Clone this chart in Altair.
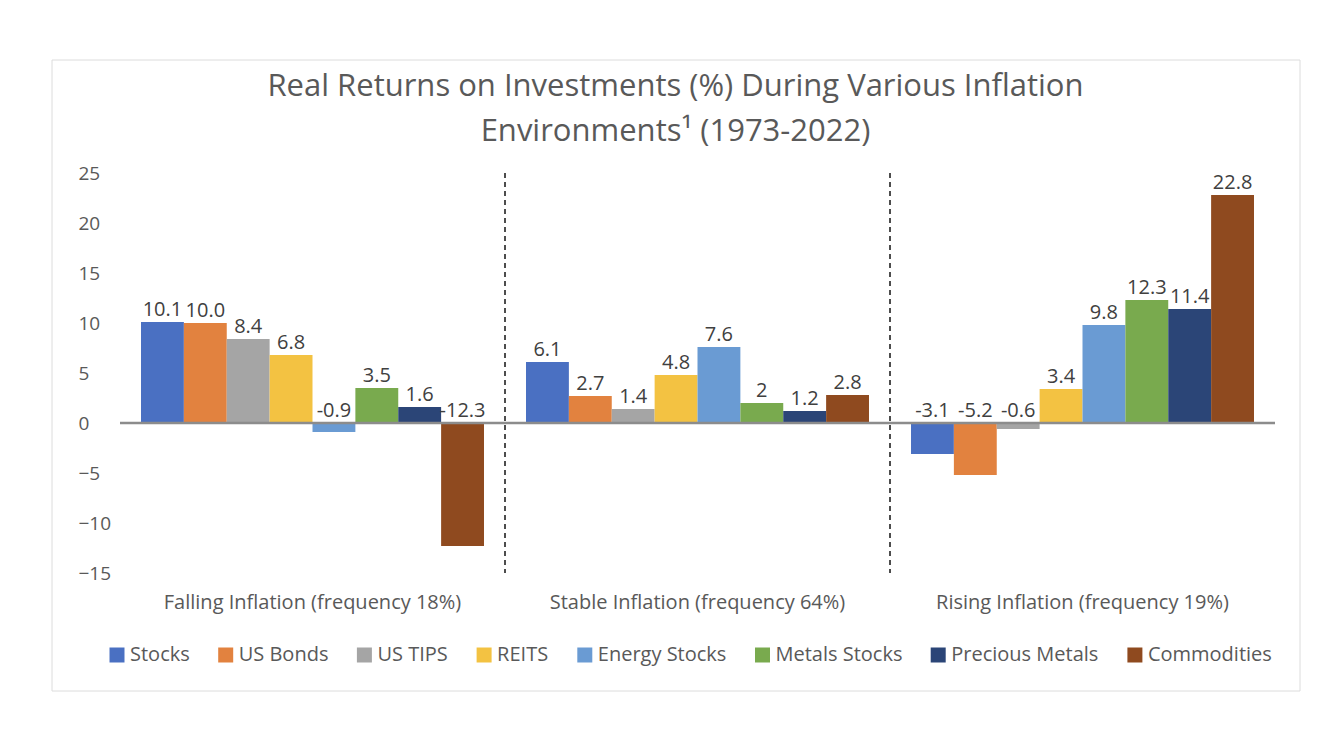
import altair as alt
import pandas as pd

groups = ["Falling Inflation (frequency 18%)", "Stable Inflation (frequency 64%)", "Rising Inflation (frequency 19%)"]
series = ["Stocks", "US Bonds", "US TIPS", "REITS", "Energy Stocks", "Metals Stocks", "Precious Metals", "Commodities"]
falling = [10.1, 10.0, 8.4, 6.8, -0.9, 3.5, 1.6, -12.3]
stable = [6.1, 2.7, 1.4, 4.8, 7.6, 2, 1.2, 2.8]
rising = [-3.1, -5.2, -0.6, 3.4, 9.8, 12.3, 11.4, 22.8]
colors = ["#4A70C2", "#E2823F", "#A5A5A5", "#F3C242", "#6A9BD3", "#79AA4E", "#2B4577", "#8F4A1F"]
y_ticks = [-15, -10, -5, 0, 5, 10, 15, 20, 25]

rows = []
for g, vals in zip(groups, [falling, stable, rising]):
    for s, v in zip(series, vals):
        rows.append({"group": g, "series": s, "value": v, "label": str(v), "labely": max(v, 0)})
df = pd.DataFrame(rows)

FONT = "Open Sans"
GREY = "#595959"
FS = 20

xscale = alt.Scale(domain=groups, paddingInner=0, paddingOuter=0)
xoff = alt.XOffset("series:N", sort=series, scale=alt.Scale(domain=series, paddingInner=0, paddingOuter=0.49))
yscale = alt.Scale(domain=[-15, 25], nice=False, zero=False)

frame = alt.Chart(pd.DataFrame({"a": [0]})).mark_rect(filled=False, stroke="#dcdcdc", strokeWidth=1).encode(
    x=alt.value(-68), x2=alt.value(1180), y=alt.value(-113), y2=alt.value(518)
)

bars = alt.Chart(df).mark_bar().encode(
    x=alt.X("group:N", scale=xscale, title=None,
            axis=alt.Axis(orient="bottom", domain=False, ticks=False, labelAngle=0, labelPadding=19,
                          labelFont=FONT, labelFontSize=FS, labelColor=GREY, labelLimit=400)),
    xOffset=xoff,
    y=alt.Y("value:Q", scale=yscale, title=None,
            axis=alt.Axis(values=y_ticks, grid=False, domain=False, ticks=False, labelPadding=42,
                          labelAlign="left",
                          labelFont=FONT, labelFontSize=19, labelColor=GREY)),
    color=alt.Color("series:N", sort=series, scale=alt.Scale(domain=series, range=colors),
                    legend=alt.Legend(title=None, orient="none", legendX=-13, legendY=472, direction="horizontal",
                                      symbolType="square", symbolSize=225, symbolStrokeWidth=0,
                                      labelFont=FONT, labelFontSize=FS, labelColor=GREY,
                                      labelOffset=3, columnPadding=25.7)),
)

labels = alt.Chart(df).mark_text(dy=-12, font=FONT, fontSize=FS, color="#404040").encode(
    x=alt.X("group:N", scale=xscale),
    xOffset=xoff,
    y=alt.Y("labely:Q", scale=yscale),
    text="label:N",
)

zero = alt.Chart(pd.DataFrame({"z": [0]})).mark_rule(color="#8c8c8c", strokeWidth=2.5).encode(
    y=alt.Y("z:Q", scale=yscale)
)

seps = alt.Chart(pd.DataFrame({"group": groups[1:]})).mark_rule(
    color="#4d4d4d", strokeWidth=2, strokeDash=[5, 4]
).encode(
    x=alt.X("group:N", scale=xscale, bandPosition=0),
    y=alt.datum(25),
    y2=alt.datum(-15),
)

chart = alt.layer(frame, bars, zero, labels, seps).properties(
    width=1155, height=400,
    autosize=alt.AutoSizeParams(type="none"),
    padding={"left": 112, "top": 165, "right": 40, "bottom": 130},
    title=alt.TitleParams(
        ["Real Returns on Investments (%) During Various Inflation", "Environments\u00b9 (1973-2022)"],
        font=FONT, fontSize=31, fontWeight="normal", color=GREY, anchor="middle", lineHeight=45,
        dx=-22, dy=92,
    ),
).configure_view(stroke=None)

chart.save("out.html", embed_options={"renderer": "svg", "actions": False})
